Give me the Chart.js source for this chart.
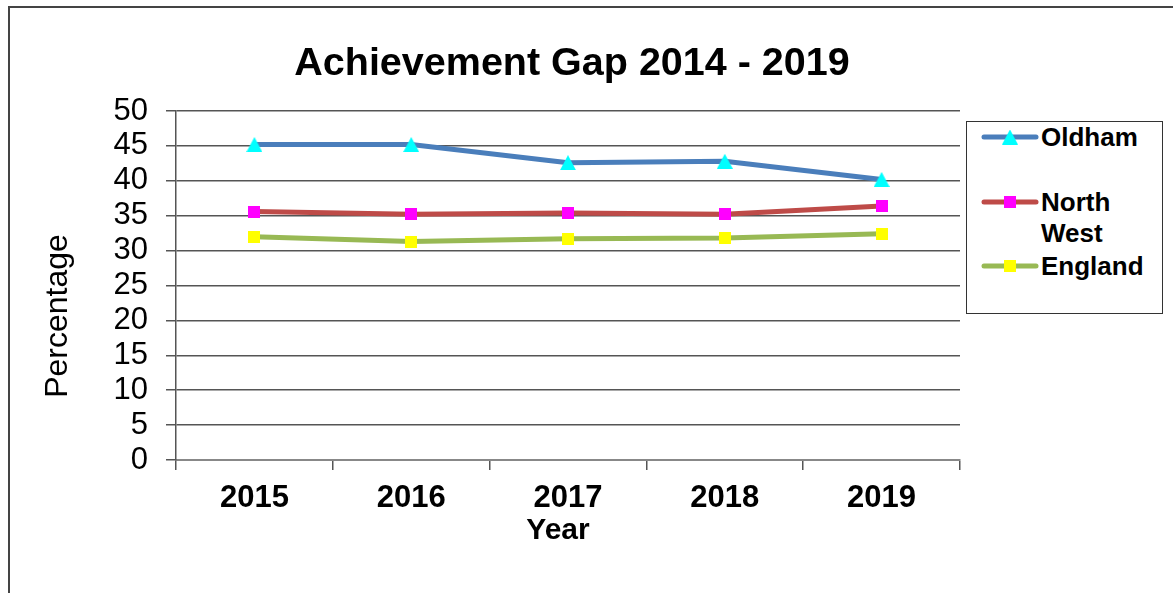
<!DOCTYPE html>
<html>
<head>
<meta charset="utf-8">
<title>Achievement Gap 2014 - 2019</title>
<script src="https://cdn.jsdelivr.net/npm/chart.js@4.4.0/dist/chart.umd.min.js"></script>
<style>
    html, body { margin: 0; padding: 0; background: #fff; }
    body { width: 1173px; height: 593px; overflow: hidden; position: relative; font-family: Arial, "Liberation Sans", sans-serif; }
    #frame { position: absolute; left: 8px; top: 6px; width: 1200px; height: 620px; border-left: 2px solid #444; border-top: 2px solid #444; }
    #wrap { position: absolute; left: 0; top: 0; width: 1173px; height: 593px; }
    #legend { position: absolute; left: 966px; top: 121px; width: 195px; height: 191px; border: 1.5px solid #333; background: #fff; }
    .item { position: absolute; left: 0; width: 195px; }
    .item canvas { position: absolute; left: 13px; top: 5px; }
    .item span { position: absolute; left: 74px; width: 118px; font-weight: bold; font-size: 26px; line-height: 31px; color: #000; }
</style>
</head>
<body>
<div id="frame"></div>
<div id="wrap"><canvas id="gapChart" width="1173" height="593"></canvas></div>
<div id="legend"></div>
<script>
// Chart data
const years = ['2015', '2016', '2017', '2018', '2019'];
const oldham = [45.2, 45.2, 42.6, 42.8, 40.2];
const northWest = [35.6, 35.2, 35.4, 35.2, 36.4];
const england = [32.0, 31.3, 31.7, 31.8, 32.4];
const seriesNames = ['Oldham', 'North West', 'England'];
const yMin = 0;
const yMax = 50;
const yStep = 5;
const xTitle = 'Year';
const yTitle = 'Percentage';

// Build a small canvas marker (Excel style triangle / square)
function makeMarker(shape, color) {
    const c = document.createElement('canvas');
    const g = c.getContext('2d');
    if (shape === 'triangle') {
        c.width = 16; c.height = 15;
        g.fillStyle = color;
        g.beginPath();
        g.moveTo(8, 0);
        g.lineTo(16, 15);
        g.lineTo(0, 15);
        g.closePath();
        g.fill();
    } else {
        c.width = 12; c.height = 12;
        g.fillStyle = color;
        g.fillRect(0, 0, 12, 12);
    }
    return c;
}

const styles = [
    { line: '#4A7EBB', marker: makeMarker('triangle', '#00FFFF') },
    { line: '#BE4B48', marker: makeMarker('square', '#FF00FF') },
    { line: '#98B954', marker: makeMarker('square', '#FFFF00') }
];

const values = [oldham, northWest, england];

const datasets = values.map((data, i) => ({
    label: seriesNames[i],
    data: data,
    borderColor: styles[i].line,
    backgroundColor: styles[i].line,
    borderWidth: 5,
    tension: 0,
    pointStyle: styles[i].marker,
    pointRadius: 7,
    pointHoverRadius: 7
}));

// Axis titles placed like the Excel original (not centred on the axis)
const axisTitles = {
    id: 'axisTitles',
    afterDraw(chart) {
        const {ctx, chartArea} = chart;
        ctx.save();
        ctx.fillStyle = '#000';
        ctx.textAlign = 'center';
        ctx.textBaseline = 'middle';

        ctx.font = 'bold 30px Arial, "Liberation Sans"';
        ctx.fillText(xTitle, chartArea.left + 382, chartArea.bottom + 70.5);

        ctx.font = '32px Arial, "Liberation Sans"';
        ctx.translate(chartArea.left - 118, chartArea.top + 205);
        ctx.rotate(-Math.PI / 2);
        ctx.fillText(yTitle, 0, 0);
        ctx.restore();
    }
};

const gapChart = new Chart(document.getElementById('gapChart'), {
    type: 'line',
    data: {
        labels: years,
        datasets: datasets
    },
    plugins: [axisTitles],
    options: {
        responsive: false,
        animation: false,
        layout: {
            padding: { left: 0, right: 29, top: 0, bottom: 0 }
        },
        plugins: {
            legend: { display: false },
            tooltip: { enabled: false },
            title: {
                display: true,
                text: 'Achievement Gap 2014 - 2019',
                color: '#000',
                font: { family: 'Arial, "Liberation Sans"', size: 39.5, weight: 'bold' },
                padding: { top: 40, bottom: 23.6 }
            }
        },
        scales: {
            x: {
                offset: true,
                grid: {
                    offset: true,
                    drawOnChartArea: false,
                    drawTicks: true,
                    tickLength: 10,
                    color: '#555',
                    lineWidth: 1.5
                },
                border: { color: '#888', width: 2 },
                ticks: {
                    color: '#000',
                    padding: 10,
                    font: { family: 'Arial, "Liberation Sans"', size: 31, weight: 'bold' }
                },
                afterFit: scale => { scale.height = 133; }
            },
            y: {
                min: yMin,
                max: yMax,
                grid: {
                    color: '#555',
                    lineWidth: 1.5,
                    tickLength: 10
                },
                border: { color: '#555', width: 1.5 },
                ticks: {
                    stepSize: yStep,
                    autoSkip: false,
                    color: '#000',
                    padding: 18,
                    font: { family: 'Arial, "Liberation Sans"', size: 31 }
                },
                afterFit: scale => { scale.width = 176; }
            },
            // empty space on the right for the legend box
            spacer: {
                type: 'linear',
                position: 'right',
                grid: { display: false },
                border: { display: false },
                ticks: { display: false },
                afterFit: scale => { scale.width = 184; }
            }
        }
    }
});

// Legend built from the datasets
const legendBox = document.getElementById('legend');
const legendTops = [0, 65, 128.5];
gapChart.data.datasets.forEach((ds, i) => {
    const item = document.createElement('div');
    item.className = 'item';
    item.style.top = legendTops[i] + 'px';

    const key = document.createElement('canvas');
    key.width = 60; key.height = 20;
    const g = key.getContext('2d');
    g.strokeStyle = ds.borderColor;
    g.lineWidth = 5;
    g.lineCap = 'round';
    g.beginPath();
    g.moveTo(4, 10);
    g.lineTo(56, 10);
    g.stroke();
    const m = ds.pointStyle;
    g.drawImage(m, 30 - m.width / 2, 10 - m.height / 2);

    const text = document.createElement('span');
    text.textContent = ds.label;

    item.appendChild(key);
    item.appendChild(text);
    legendBox.appendChild(item);
});
</script>
</body>
</html>
